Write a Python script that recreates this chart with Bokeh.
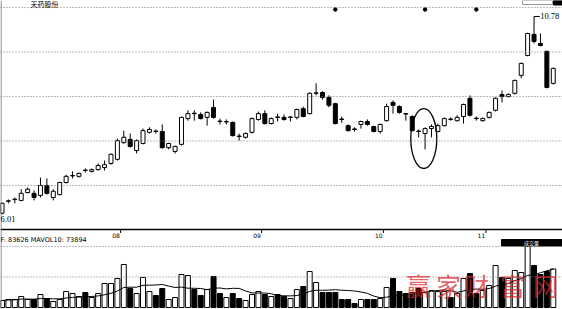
import pandas as pd
from bokeh.plotting import figure
from bokeh.models import Range1d, Span, Label, ColumnDataSource
from bokeh.core.properties import value
from bokeh.embed import file_html
from bokeh.resources import INLINE

# ---- daily bars ----
stock_name = "天药股份"
opens = [6.04, 6.33, 6.37, 6.35, 6.54, 6.52, 6.47, 6.71, 6.42, 6.49,
         6.78, 6.94, 6.93, 7.08, 7.05, 7.09, 7.14, 7.24, 7.34, 7.74,
         7.82, 7.55, 7.72, 7.99, 8.02, 8.01, 7.62, 7.53, 7.70, 8.32,
         8.45, 8.42, 8.35, 8.59, 8.26, 8.24, 8.23, 7.90, 7.87, 7.99,
         8.30, 8.44, 8.20, 8.36, 8.35, 8.35, 8.35, 8.56, 8.44, 8.93,
         8.95, 8.83, 8.68, 8.31, 8.15, 8.07, 8.18, 8.25, 8.13, 8.01,
         8.27, 8.71, 8.61, 8.44, 8.37, 8.02, 7.96, 8.08, 8.01, 8.15,
         8.31, 8.27, 8.37, 8.81, 8.33, 8.27, 8.35, 8.52, 8.90, 8.85,
         8.93, 9.36, 9.84, 10.35, 10.13, 9.94, 9.17]
highs = [6.30, 6.37, 6.42, 6.62, 6.66, 6.59, 6.90, 6.88, 6.62, 6.80,
         6.97, 7.05, 7.02, 7.12, 7.12, 7.24, 7.31, 7.48, 7.84, 8.03,
         7.96, 7.82, 8.08, 8.11, 8.06, 8.18, 7.74, 7.67, 8.37, 8.52,
         8.52, 8.47, 8.49, 8.78, 8.32, 8.30, 8.25, 7.96, 7.99, 8.35,
         8.49, 8.52, 8.35, 8.44, 8.42, 8.37, 8.56, 8.61, 8.95, 9.17,
         8.98, 8.88, 8.70, 8.37, 8.18, 8.11, 8.27, 8.30, 8.15, 8.20,
         8.68, 8.76, 8.64, 8.45, 8.40, 8.06, 8.11, 8.18, 8.20, 8.35,
         8.35, 8.40, 8.68, 8.88, 8.37, 8.35, 8.49, 8.83, 9.00, 8.93,
         9.26, 9.67, 10.39, 10.78, 10.37, 9.96, 9.55]
lows = [6.01, 6.28, 6.28, 6.33, 6.52, 6.35, 6.42, 6.49, 6.35, 6.47,
        6.76, 6.88, 6.90, 7.02, 7.02, 7.07, 7.07, 7.21, 7.31, 7.72,
        7.62, 7.48, 7.70, 7.96, 7.96, 7.60, 7.58, 7.48, 7.67, 8.27,
        8.27, 8.30, 8.15, 8.32, 8.18, 8.18, 7.89, 7.79, 7.84, 7.96,
        8.27, 8.18, 8.18, 8.25, 8.27, 8.25, 8.30, 8.35, 8.42, 8.88,
        8.78, 8.59, 8.18, 8.22, 8.01, 8.01, 8.08, 8.15, 7.99, 7.96,
        8.25, 8.44, 8.44, 8.27, 8.01, 7.87, 7.58, 7.87, 7.99, 8.13,
        8.27, 8.25, 8.20, 8.37, 8.27, 8.25, 8.32, 8.49, 8.71, 8.83,
        8.90, 9.29, 9.82, 10.13, 10.06, 9.05, 9.14]
closes = [6.28, 6.34, 6.38, 6.52, 6.62, 6.42, 6.71, 6.52, 6.57, 6.78,
          6.93, 6.95, 7.00, 7.07, 7.09, 7.19, 7.21, 7.46, 7.79, 7.87,
          7.65, 7.79, 8.03, 8.06, 8.01, 7.62, 7.72, 7.65, 8.35, 8.44,
          8.44, 8.32, 8.47, 8.35, 8.25, 8.25, 7.91, 7.89, 7.96, 8.32,
          8.44, 8.20, 8.32, 8.35, 8.30, 8.36, 8.54, 8.37, 8.93, 8.94,
          8.83, 8.64, 8.20, 8.30, 8.03, 8.06, 8.25, 8.18, 8.01, 8.18,
          8.61, 8.64, 8.47, 8.43, 8.03, 8.01, 8.08, 8.13, 8.15, 8.32,
          8.30, 8.35, 8.66, 8.40, 8.32, 8.32, 8.47, 8.81, 8.85, 8.90,
          9.24, 9.65, 10.37, 10.18, 10.08, 9.07, 9.53]
volumes = [15200, 17400, 17400, 23900, 17400, 17400, 28200, 19500, 13000, 17400,
           34800, 30400, 23900, 32600, 21700, 30400, 52100, 52100, 63000, 93400,
           41300, 30400, 65200, 34800, 26100, 41300, 17400, 21700, 71700, 69500,
           39100, 26100, 39100, 67300, 30400, 21700, 30400, 19500, 15200, 28200,
           34800, 28200, 23900, 28200, 23900, 19500, 39100, 45600, 78200, 54300,
           32600, 32600, 32600, 17400, 17400, 8700, 17400, 17400, 17400, 19500,
           43400, 63000, 34800, 30400, 32600, 41300, 32600, 36900, 34800, 34800,
           21700, 30400, 63000, 73800, 30400, 36900, 47800, 91200, 65200, 63000,
           80400, 76000, 132500, 91200, 71700, 78200, 83626]
month_labels = ["08", "09", "10", "11"]
month_first_bar = [19, 41, 60, 76]
marker_bars = [52, 66, 74]
mavol_current = 73894

# ---- canvas and scales ----
W, H = 562, 309
X_START, X_END = -0.234, 87.44
P_START, P_END = 3.722, 11.165          # price scale (upper panel)
V_START, V_END = -4344, 666804          # volume scale (lower panel)


def xd(col):
    """canvas column -> bar-index coordinate"""
    return X_START + (X_END - X_START) * col / W


def py(row):
    """canvas row -> price coordinate"""
    return P_END - (P_END - P_START) * row / H


def vy(row):
    """canvas row -> volume coordinate"""
    return V_END - (V_END - V_START) * row / H


idx = list(range(len(closes)))
up = [c >= o for o, c in zip(opens, closes)]
colors = ["white" if u else "black" for u in up]
ma10 = pd.Series(volumes, dtype=float).rolling(10, min_periods=1).mean().tolist()

src = ColumnDataSource(dict(
    x=idx, o=opens, h=highs, l=lows, c=closes, v=volumes, ma=ma10,
    top=[max(o, c) for o, c in zip(opens, closes)],
    bot=[min(o, c) for o, c in zip(opens, closes)],
    color=colors,
))

p = figure(width=W, height=H, x_range=Range1d(X_START, X_END),
           y_range=Range1d(P_START, P_END),
           x_axis_type=None, y_axis_type=None,
           output_backend="svg", toolbar_location=None,
           min_border=0, outline_line_color=None, background_fill_color="white")
p.extra_y_ranges = {"vol": Range1d(V_START, V_END)}

GRID = "#7a7a7a"
# dotted price grid rows and the panel separator
for row in [7, 51.5, 96, 140.5, 185]:
    p.add_layout(Span(location=py(row), dimension="width", line_color=GRID,
                      line_dash="1 2", line_width=1))
p.add_layout(Span(location=py(229), dimension="width", line_color="black", line_width=1.6))
# volume panel grid: full scale and half scale
vmax = max(volumes)
for lvl in [vmax, vmax / 2]:
    p.add_layout(Span(location=lvl, dimension="width", y_range_name="vol",
                      line_color=GRID, line_dash="1 2", line_width=1))
p.add_layout(Span(location=xd(0.5), dimension="height", line_color="#707070", line_width=1))

# candles
p.segment(x0="x", y0="l", x1="x", y1="h", source=src, line_color="black", line_width=1)
p.vbar(x="x", width=0.62, top="top", bottom="bot", source=src,
       fill_color="color", line_color="black", line_width=1)

# volume bars and 10-day average
p.vbar(x="x", width=0.78, top="v", bottom=0, source=src, y_range_name="vol",
       fill_color="color", line_color="black", line_width=1)
p.line(x="x", y="ma", source=src, y_range_name="vol", line_color="black", line_width=1)

# month ticks on the separator
p.segment(x0=[b - 0.5 for b in month_first_bar], y0=[py(229)] * len(month_first_bar),
          x1=[b - 0.5 for b in month_first_bar], y1=[py(232.5)] * len(month_first_bar),
          line_color="black", line_width=1)
p.text(x=[b - 0.62 for b in month_first_bar], y=[py(234.5)] * len(month_first_bar),
       text=month_labels, text_align="right", text_baseline="middle",
       text_font=value("DejaVu Sans"), text_font_size="6px", text_color="black")

# event markers on the top grid row
p.scatter(x=marker_bars, y=[py(9)] * len(marker_bars), size=3.5, color="black")

# extremes
lo_i = lows.index(min(lows))
hi_i = highs.index(max(highs))
p.add_layout(Label(x=X_START, y=lows[lo_i], text=f"{lows[lo_i]:.2f}",
                   text_baseline="top", text_align="left", y_offset=-1,
                   text_font="Liberation Serif", text_font_size="8.5px", text_color="black"))
p.segment(x0=[hi_i], y0=[highs[hi_i]], x1=[hi_i + 0.9], y1=[highs[hi_i]],
          line_color="black", line_width=1)
p.add_layout(Label(x=hi_i + 0.95, y=highs[hi_i], text=f"{highs[hi_i]:.2f}",
                   text_baseline="middle", text_align="left",
                   text_font="Liberation Serif", text_font_size="8.5px", text_color="black"))

# circled pullback
p.ellipse(x=65.8, y=7.84, width=4.06, height=1.445, fill_color=None,
          line_color="black", line_width=1.3)

# title and indicator caption
p.add_layout(Label(x=xd(30), y=py(8.2), text=stock_name, text_baseline="bottom",
                   text_font="Noto Sans CJK SC", text_font_size="7px", text_color="black"))
p.add_layout(Label(x=xd(0), y=vy(239.5), y_range_name="vol",
                   text=f"F: {volumes[-1]}  MAVOL10: {mavol_current}",
                   text_baseline="middle", text_font="DejaVu Sans",
                   text_font_size="6.5px", text_color="black"))

# small header boxes
p.quad(left=[xd(522)], right=[xd(552)], top=[py(0)], bottom=[py(4)],
       fill_color=None, line_color="#9a9a9a", line_width=1)
p.quad(left=[xd(553)], right=[xd(562)], top=[py(0)], bottom=[py(4.5)],
       fill_color="black", line_color="black")
p.quad(left=[xd(501)], right=[xd(562)], top=[vy(239)], bottom=[vy(245.5)],
       y_range_name="vol", fill_color="black", line_color="black")
p.add_layout(Label(x=xd(531), y=vy(242.3), y_range_name="vol", text="成交量",
                   text_align="center", text_baseline="middle",
                   text_font="Noto Sans CJK SC", text_font_size="5px", text_color="white"))

# site watermark
for ch, col in zip("赢家财富网", [418, 448, 476, 512, 545]):
    p.add_layout(Label(x=xd(col), y=vy(284), y_range_name="vol", text=ch,
                       text_align="center", text_baseline="middle",
                       text_font="Noto Sans CJK SC", text_font_size="25px",
                       text_color="#d9262b", text_alpha=0.72))

open("out.html", "w").write(file_html(p, INLINE))
